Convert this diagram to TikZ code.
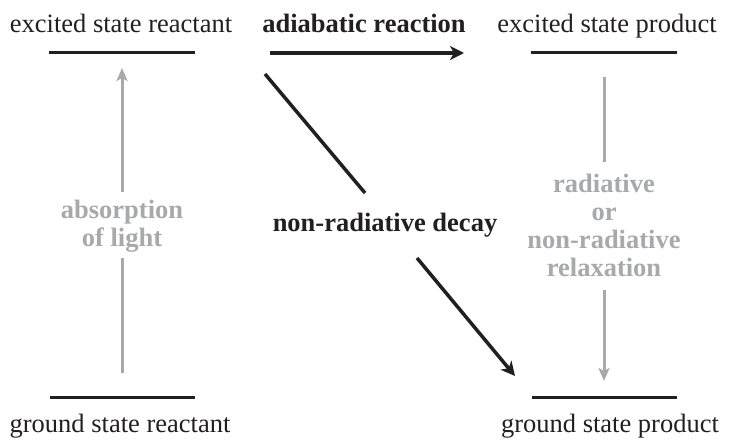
\documentclass[tikz,border=0pt]{standalone}
\usepackage{fontspec}
\setmainfont{Liberation Serif}
\usetikzlibrary{arrows.meta}
\definecolor{ink}{HTML}{231F20}
\definecolor{lgray}{HTML}{A7A9AC}
\begin{document}
\begin{tikzpicture}[x=1pt,y=-1pt,
  lbl/.style={font=\fontsize{26.5}{28}\selectfont, text=ink, inner sep=0pt, anchor=base},
  blbl/.style={font=\fontsize{26.5}{28}\selectfont\bfseries, text=ink, inner sep=0pt},
  glbl/.style={font=\fontsize{26.5}{28}\selectfont\bfseries, text=lgray, inner sep=0pt, align=center},
  level/.style={draw=ink, line width=3pt},
  bline/.style={draw=ink, line width=3.5pt},
  barrow/.style={bline, -{Stealth[length=14pt,width=14pt,inset=4pt]}},
  gline/.style={draw=lgray, line width=3pt},
  garrow/.style={gline, -{Stealth[length=13pt,width=11pt,inset=3pt]}}
]
\useasboundingbox (0,0) rectangle (736,443);

% level lines
\coordinate (tl1) at (49,53);  \coordinate (tl2) at (195,53);
\coordinate (tr1) at (531,53); \coordinate (tr2) at (677,53);
\coordinate (bl1) at (50,397); \coordinate (bl2) at (195,397);
\coordinate (br1) at (532,397); \coordinate (br2) at (677,397);
\draw[level] (tl1) -- (tl2);
\draw[level] (tr1) -- (tr2);
\draw[level] (bl1) -- (bl2);
\draw[level] (br1) -- (br2);

% labels
\node[lbl] (esr) at (121,33) {excited state reactant};
\node[blbl, anchor=base] (adi) at (364,33) {adiabatic reaction};
\node[lbl] (esp) at (607,33) {excited state product};
\node[lbl] (gsr) at (120,432) {ground state reactant};
\node[lbl] (gsp) at (610,432) {ground state product};

\node[glbl] (abs) at (122,226) {absorption\\of light};
\node[blbl] (nrd) at (385,225) {non-radiative decay};
\node[glbl] (rel) at (604,225) {radiative\\or\\non-radiative\\relaxation};

% adiabatic arrow
\coordinate (a1) at (270,53); \coordinate (a2) at (464,53);
\draw[barrow] (a1) -- (a2);

% absorption arrow
\coordinate (u1) at (122,373); \coordinate (u2) at (122,258);
\coordinate (u3) at (122,192); \coordinate (u4) at (122,68);
\draw[gline] (u1) -- (u2);
\draw[garrow] (u3) -- (u4);

% relaxation arrow
\coordinate (r1) at (604,77);  \coordinate (r2) at (604,162);
\coordinate (r3) at (604,290); \coordinate (r4) at (604,381);
\draw[gline] (r1) -- (r2);
\draw[garrow] (r3) -- (r4);

% non-radiative decay arrow
\coordinate (d1) at (265,74);  \coordinate (d2) at (365,193);
\coordinate (d3) at (417,258); \coordinate (d4) at (515,376);
\draw[bline] (d1) -- (d2);
\draw[barrow] (d3) -- (d4);
\end{tikzpicture}
\end{document}
